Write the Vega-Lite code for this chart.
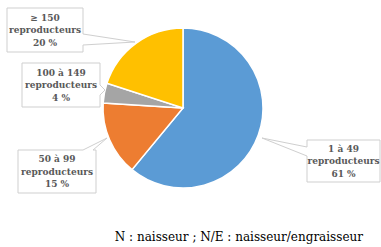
{
  "$schema": "https://vega.github.io/schema/vega-lite/v6.json",
  "width": 366,
  "height": 216,
  "autosize": {"type": "none"},
  "padding": {"left": 0, "top": 0, "right": 15, "bottom": 31},
  "background": "white",
  "config": {"view": {"stroke": null}},
  "title": {
    "text": "N : naisseur ; N/E : naisseur/engraisseur",
    "orient": "bottom",
    "anchor": "end",
    "frame": "group",
    "font": "DejaVu Serif",
    "fontSize": 12,
    "fontWeight": "normal",
    "color": "black",
    "offset": 16,
    "dx": -3
  },
  "data": {
    "values": [
      {"category": "1 à 49 reproducteurs", "pct": 61, "order": 1, "label": "1 à 49\nreproducteurs\n61 %"},
      {"category": "50 à 99 reproducteurs", "pct": 15, "order": 2, "label": "50 à 99\nreproducteurs\n15 %"},
      {"category": "100 à 149 reproducteurs", "pct": 4, "order": 3, "label": "100 à 149\nreproducteurs\n4 %"},
      {"category": "≥ 150 reproducteurs", "pct": 20, "order": 4, "label": "≥ 150\nreproducteurs\n20 %"}
    ]
  },
  "layer": [
    {
      "mark": {"type": "arc", "outerRadius": 80, "stroke": "white", "strokeWidth": 1.5},
      "encoding": {
        "theta": {"field": "pct", "type": "quantitative", "stack": true},
        "order": {"field": "order", "type": "quantitative", "sort": "ascending"},
        "color": {
          "field": "category",
          "type": "nominal",
          "scale": {
            "domain": ["1 à 49 reproducteurs", "50 à 99 reproducteurs", "100 à 149 reproducteurs", "≥ 150 reproducteurs"],
            "range": ["#5B9BD5", "#ED7D31", "#A5A5A5", "#FFC000"]
          },
          "legend": null
        }
      }
    },
    {
      "mark": {"type": "point", "filled": true, "fill": "white", "stroke": "#CFCFCF", "strokeWidth": 1, "opacity": 1, "size": 4},
      "encoding": {
        "x": {"field": "order", "type": "quantitative", "scale": {"domain": [1, 2, 3, 4], "range": [343.5, 57, 61, 45], "zero": false, "nice": false}, "axis": null},
        "y": {"field": "order", "type": "quantitative", "scale": {"domain": [1, 2, 3, 4], "range": [161, 171.5, 85, 30], "zero": false, "nice": false}, "axis": null},
        "shape": {
          "field": "category",
          "type": "nominal",
          "scale": {
            "domain": ["1 à 49 reproducteurs", "50 à 99 reproducteurs", "100 à 149 reproducteurs", "≥ 150 reproducteurs"],
            "range": [
              "M-36.5,-21H36.5V21H-36.5V-5L-81.5,-23L-36.5,-14Z",
              "M-39,-21.5H26L50,-33.5L36,-21.5H39V21.5H-39Z",
              "M-39,-22H39V0L44,5L39,10V22H-39Z",
              "M-38,-22H38V4L90,12L38,15V22H-38Z"
            ]
          },
          "legend": null
        }
      }
    },
    {
      "mark": {"type": "text", "font": "DejaVu Serif", "fontWeight": "bold", "fontSize": 9, "lineHeight": 12.5, "lineBreak": "\n", "color": "#595959", "align": "center", "baseline": "middle", "dy": -12.5},
      "encoding": {
        "x": {"field": "order", "type": "quantitative", "scale": {"domain": [1, 2, 3, 4], "range": [343.5, 57, 61, 45], "zero": false, "nice": false}, "axis": null},
        "y": {"field": "order", "type": "quantitative", "scale": {"domain": [1, 2, 3, 4], "range": [161, 171.5, 85, 30], "zero": false, "nice": false}, "axis": null},
        "text": {"field": "label", "type": "nominal"}
      }
    }
  ]
}
